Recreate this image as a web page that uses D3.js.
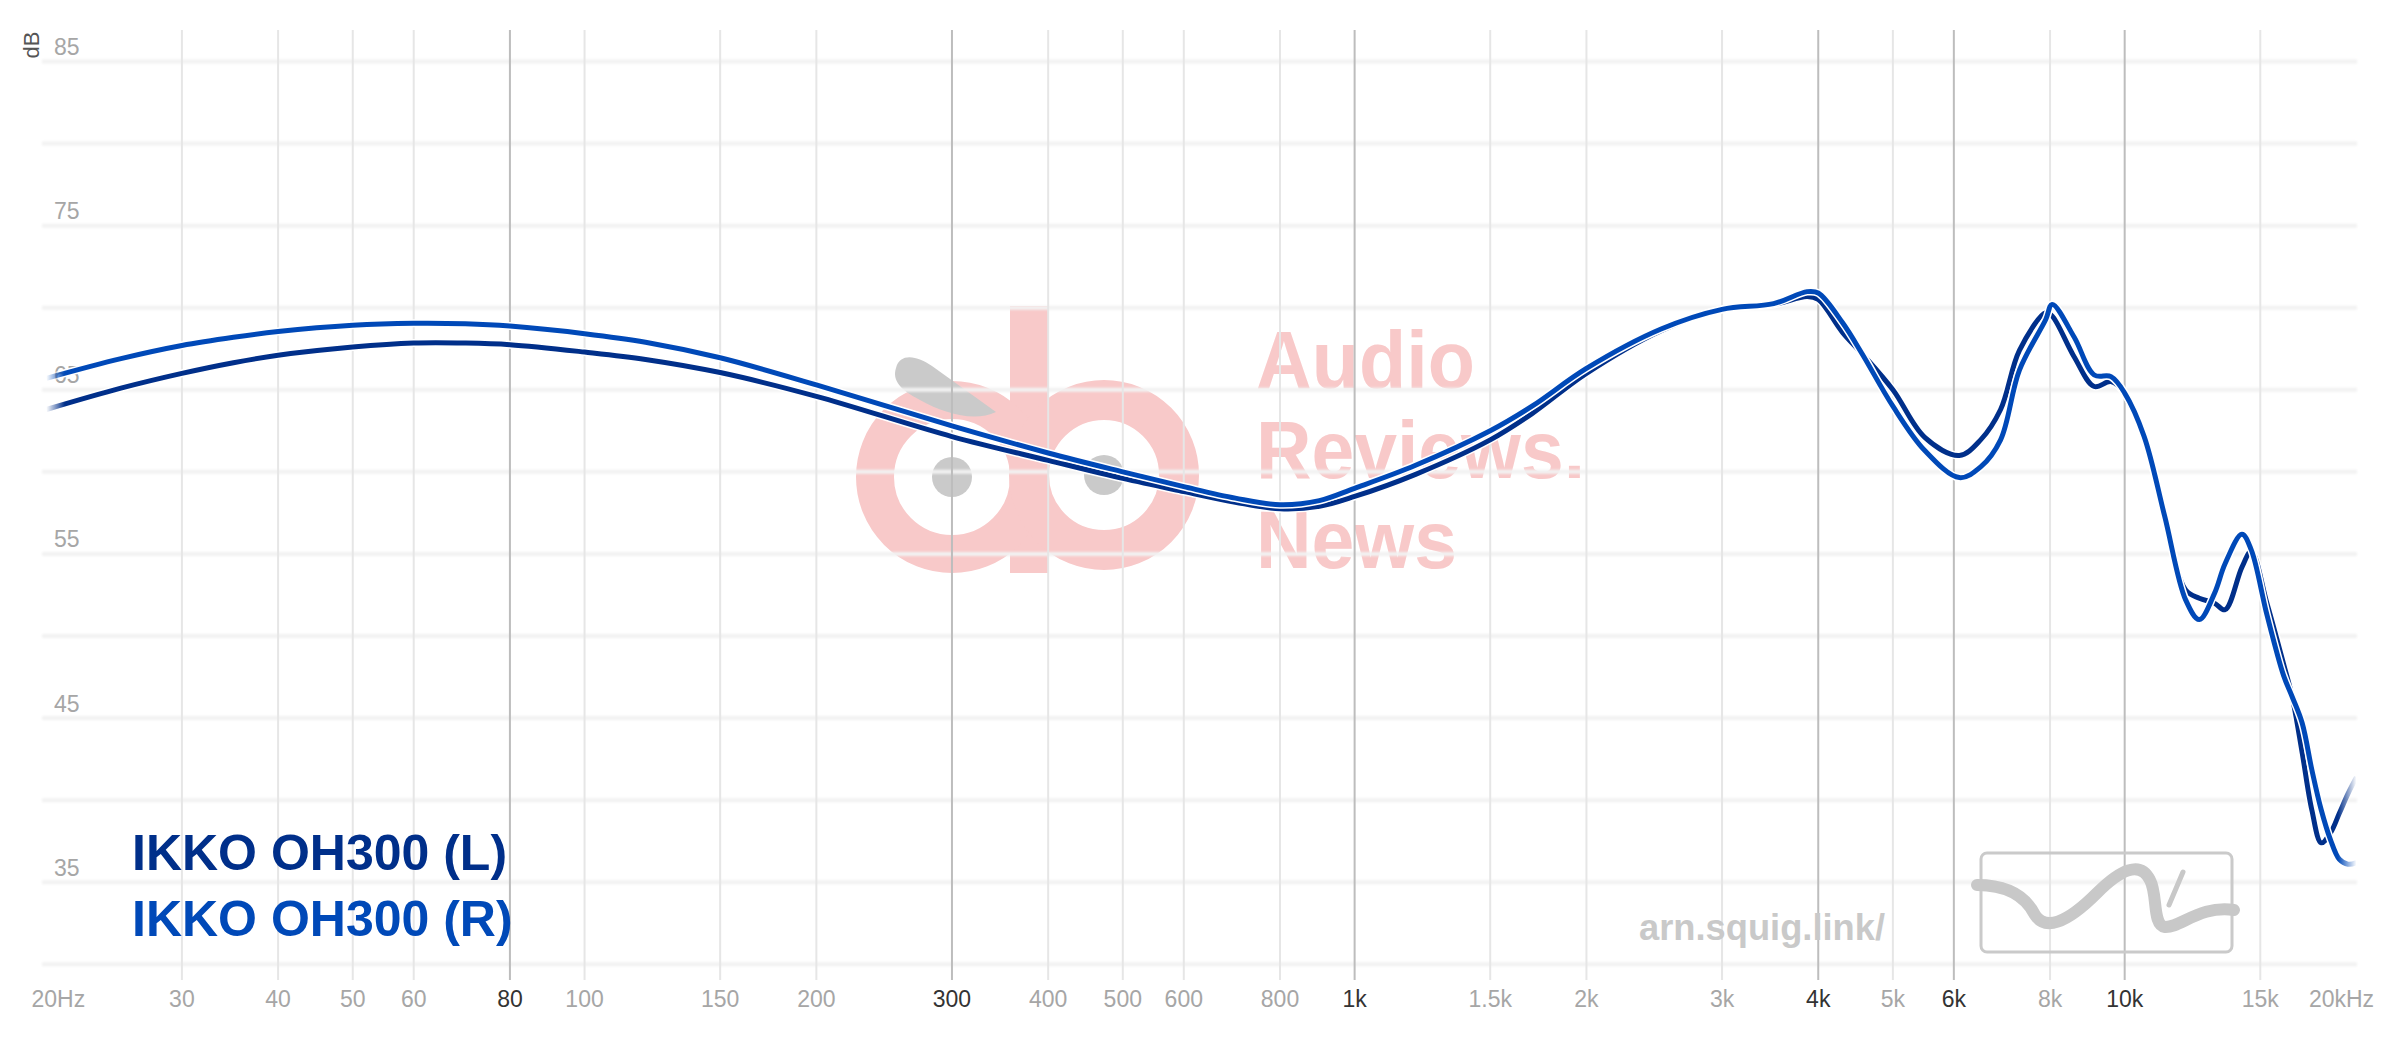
<!DOCTYPE html>
<html>
<head>
<meta charset="utf-8">
<script src="https://cdn.jsdelivr.net/npm/d3@7"></script>
<style>
  html, body { margin: 0; padding: 0; background: #fff; }
  svg { display: block; font-family: "Liberation Sans", Arial, sans-serif; }
</style>
</head>
<body>
<svg id="chart" width="2400" height="1038"></svg>
<script>
// ---------- DATA ----------
const freqs = [20,25,30,35,40,50,60,70,80,100,120,150,200,300,400,500,600,700,800,900,1000,1200,1500,1700,2000,2500,3000,3500,3870,4000,4300,4560,5000,5500,6100,6500,6900,7300,7900,8050,8600,9130,9600,10000,10600,11270,12000,12500,13080,13500,14200,14600,15300,16080,16500,17000,17500,18000,18500,19000,19500,20000];

const leftSeries = [63.8,65.1,66.0,66.65,67.1,67.6,67.85,67.85,67.75,67.3,66.85,66.05,64.6,62.15,60.7,59.6,58.8,58.15,57.75,57.9,58.5,59.85,61.95,63.55,66.0,68.6,69.9,70.2,70.68,70.5,68.5,67.2,65.0,62.1,61.0,61.95,63.8,67.4,69.7,69.5,67.0,65.2,65.5,64.8,62.15,57.3,52.8,52.3,52.0,51.6,54.2,55.15,52.0,48.3,46.3,42.9,39.4,37.4,38.0,39.2,40.4,41.4];

const rightSeries = [65.7,66.9,67.7,68.2,68.55,68.93,69.05,69.02,68.88,68.42,67.9,66.95,65.3,62.8,61.15,60.0,59.1,58.4,58.0,58.25,59.0,60.4,62.5,64.0,66.3,68.7,69.9,70.25,70.98,70.9,69.1,67.2,64.0,61.3,59.65,60.3,61.95,66.2,69.3,70.2,68.2,65.9,65.8,64.8,62.15,57.3,52.2,51.0,52.6,54.4,56.2,55.25,51.3,47.6,46.3,44.7,41.85,39.4,37.6,36.4,36.1,36.2];

const seriesNames = ["IKKO OH300 (L)", "IKKO OH300 (R)"];
const seriesColors = ["#002f8a", "#0049b8"];

const xTickValues = [20,30,40,50,60,80,100,150,200,300,400,500,600,800,1000,1500,2000,3000,4000,5000,6000,8000,10000,15000,20000];
const xTickLabels = ["20Hz","30","40","50","60","80","100","150","200","300","400","500","600","800","1k","1.5k","2k","3k","4k","5k","6k","8k","10k","15k","20kHz"];
const xStrongTicks = [80,300,1000,4000,6000,10000];
const yGridValues = [30,35,40,45,50,55,60,65,70,75,80,85];
const yLabelValues = [35,45,55,65,75,85];

// ---------- SCALES ----------
const svg = d3.select("#chart");
const x = d3.scaleLog().domain([20, 20000]).range([46.3, 2356.5]);
const y = d3.scaleLinear().domain([30, 85]).range([964.3, 61.5]);

const defs = svg.append("defs");
defs.append("filter").attr("id", "soft").attr("x", "-1%").attr("y", "-200%").attr("width", "102%").attr("height", "500%")
  .append("feGaussianBlur").attr("stdDeviation", 1.2);

// ---------- BACKGROUND WATERMARK (pink logo) ----------
const wm = svg.append("g").attr("class", "watermark");
const pink = "#f8c9c9";
wm.append("rect").attr("x", 1010).attr("y", 306).attr("width", 38).attr("height", 267).attr("fill", pink);
wm.append("circle").attr("cx", 952).attr("cy", 477).attr("r", 77).attr("fill", "none").attr("stroke", pink).attr("stroke-width", 38);
wm.append("circle").attr("cx", 1104).attr("cy", 475).attr("r", 75).attr("fill", "none").attr("stroke", pink).attr("stroke-width", 40);
wm.append("circle").attr("cx", 952).attr("cy", 477).attr("r", 20).attr("fill", "#cacaca");
wm.append("circle").attr("cx", 1104).attr("cy", 475).attr("r", 20).attr("fill", "#cacaca");
wm.append("path")
  .attr("d", "M896,368 C900,352 918,356 932,366 L996,412 C975,422 945,414 920,400 C900,390 892,380 896,368 Z")
  .attr("fill", "#cacaca");
const wmText = [["Audio", 388, 219], ["Reviews.", 478, 329], ["News", 568, 201]];
wmText.forEach(d => {
  wm.append("text").attr("x", 1256).attr("y", d[1])
    .attr("font-size", 82).attr("font-weight", "bold").attr("fill", pink)
    .attr("textLength", d[2]).attr("lengthAdjust", "spacingAndGlyphs")
    .text(d[0]);
});

// ---------- GRID ----------
const grid = svg.append("g");
grid.append("g").attr("filter", "url(#soft)")
  .selectAll("line").data(yGridValues).enter().append("line")
  .attr("x1", 42).attr("x2", 2357)
  .attr("y1", d => y(d)).attr("y2", d => y(d))
  .attr("stroke", "#f2f2f2").attr("stroke-width", 4);
const vTicks = xTickValues.filter(v => v > 20 && v < 20000);
grid.append("g").selectAll("line").data(vTicks).enter().append("line")
  .attr("x1", d => x(d)).attr("x2", d => x(d))
  .attr("y1", 30).attr("y2", 980)
  .attr("stroke", d => xStrongTicks.includes(d) ? "#bdbdbd" : "#e6e6e6")
  .attr("stroke-width", 2);

// ---------- AXIS LABELS ----------
const xl = svg.append("g");
xl.selectAll("text").data(xTickValues).enter().append("text")
  .attr("x", (d, i) => x(d) + (i === 0 ? 12 : (i === xTickValues.length - 1 ? -15 : 0)))
  .attr("y", 1007)
  .attr("text-anchor", "middle")
  .attr("font-size", 23)
  .attr("fill", d => xStrongTicks.includes(d) ? "#333" : "#a6a6a6")
  .text((d, i) => xTickLabels[i]);

const yl = svg.append("g");
yl.selectAll("text").data(yLabelValues).enter().append("text")
  .attr("x", 54).attr("y", d => y(d) - 6.5)
  .attr("font-size", 23).attr("fill", "#a6a6a6")
  .text(d => d);

svg.append("text")
  .attr("transform", "translate(39,45) rotate(-90)")
  .attr("text-anchor", "middle")
  .attr("font-size", 22).attr("fill", "#555")
  .text("dB");

// ---------- BOTTOM-RIGHT WATERMARK ----------
svg.append("text").attr("x", 1639).attr("y", 940)
  .attr("font-size", 36).attr("font-weight", "bold").attr("fill", "#c9c9c9")
  .attr("textLength", 246).attr("lengthAdjust", "spacingAndGlyphs")
  .text("arn.squig.link/");
svg.append("rect").attr("x", 1981).attr("y", 853).attr("width", 251).attr("height", 99).attr("rx", 6)
  .attr("fill", "none").attr("stroke", "#cacaca").attr("stroke-width", 3);
svg.append("path")
  .attr("d", "M1977,885 C2005,885 2025,895 2035,915 C2045,930 2065,925 2097,893 C2120,870 2140,860 2150,880 C2158,895 2152,925 2165,927 C2180,928 2200,905 2234,910")
  .attr("fill", "none").attr("stroke", "#c8c8c8").attr("stroke-width", 12).attr("stroke-linecap", "round");
svg.append("path")
  .attr("d", "M2183,872 L2169,905")
  .attr("fill", "none").attr("stroke", "#c8c8c8").attr("stroke-width", 5).attr("stroke-linecap", "round");

// ---------- CURVES ----------
const grad = defs.append("linearGradient").attr("id", "fade")
  .attr("gradientUnits", "userSpaceOnUse")
  .attr("x1", x(20)).attr("x2", x(20000)).attr("y1", 0).attr("y2", 0);
grad.append("stop").attr("offset", 0).attr("stop-color", "#fff").attr("stop-opacity", 0);
grad.append("stop").attr("offset", 0.008).attr("stop-color", "#fff").attr("stop-opacity", 1);
grad.append("stop").attr("offset", 0.992).attr("stop-color", "#fff").attr("stop-opacity", 1);
grad.append("stop").attr("offset", 1).attr("stop-color", "#fff").attr("stop-opacity", 0);
defs.append("mask").attr("id", "fadeMask").attr("maskUnits", "userSpaceOnUse")
  .attr("x", 0).attr("y", 0).attr("width", 2400).attr("height", 1038)
  .append("rect").attr("x", 0).attr("y", 0).attr("width", 2400).attr("height", 1038).attr("fill", "url(#fade)");

const line = d3.line().x(d => x(d[0])).y(d => y(d[1])).curve(d3.curveCatmullRom.alpha(0.5));
const curves = svg.append("g").attr("mask", "url(#fadeMask)");
[leftSeries, rightSeries].forEach((vals, i) => {
  const pts = freqs.map((f, j) => [f, vals[j]]);
  curves.append("path").attr("d", line(pts)).attr("fill", "none")
    .attr("stroke", "#fff").attr("stroke-width", 8).attr("stroke-linejoin", "round");
  curves.append("path").attr("d", line(pts)).attr("fill", "none")
    .attr("stroke", seriesColors[i]).attr("stroke-width", 5).attr("stroke-linejoin", "round");
});

// ---------- LEGEND ----------
const legend = svg.append("g");
seriesNames.forEach((n, i) => {
  legend.append("text").attr("x", 132).attr("y", 870 + i * 66)
    .attr("font-size", 50).attr("font-weight", "bold").attr("fill", seriesColors[i])
    .text(n);
});
</script>
</body>
</html>
